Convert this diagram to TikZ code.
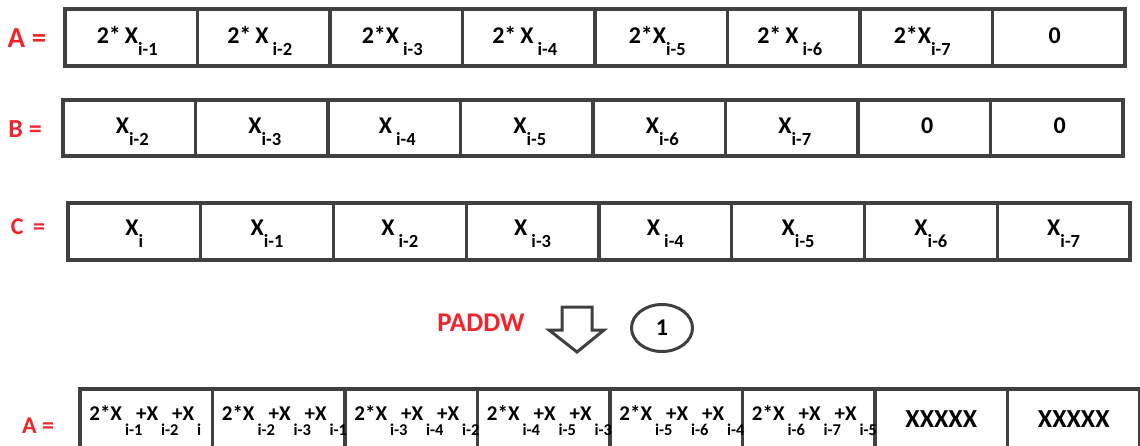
\documentclass[tikz,border=0pt]{standalone}
\usepackage{fontspec}
\setmainfont{Carlito}
\usetikzlibrary{shapes.geometric}
\definecolor{linegray}{RGB}{64,64,64}
\definecolor{lblred}{RGB}{240,36,44}
% lowered index, top rows / bottom row
\newcommand\lsub[1]{\raisebox{-12pt}{\fontsize{18.5}{18.5}\selectfont #1}}
\newcommand\bsub[2][11pt]{\hspace{3pt}\raisebox{-15pt}{\makebox[#1][l]{\fontsize{16.5}{16.5}\selectfont #2}}}
\begin{document}
\begin{tikzpicture}[x=1pt,y=-1pt,
    cell/.style={draw=linegray, line width=3.2pt, minimum width=132.5pt, inner sep=0pt, outer sep=0pt},
    val/.style={anchor=base, inner sep=0pt, font=\bfseries\fontsize{24}{24}\selectfont},
    rval/.style={anchor=base, inner sep=0pt, font=\bfseries\fontsize{21}{21}\selectfont},
    lbl/.style={text=lblred, inner sep=0pt, font=\bfseries}]
  \useasboundingbox (0,0) rectangle (1140,445);
  \clip (0,0) rectangle (1140,445);

  % row A
  \foreach \t [count=\i] in {{2*\,X\lsub{i-1}},{2*\,X\,\lsub{i-2}},{2*X\,\lsub{i-3}},{2*\,X\,\lsub{i-4}},{2*X\lsub{i-5}},{2*\,X\,\lsub{i-6}},{2*X\lsub{i-7}},{0}} {
    \node[cell, minimum height=57pt] (a\i) at ({65+132.5*(\i-0.5)},37.5) {};
    \node[val] (ta\i) at ([xshift=-4pt,yshift=-5.5pt]a\i.center) {\t};
  }
  % row B
  \foreach \t [count=\i] in {{X\lsub{i-2}},{X\lsub{i-3}},{X\,\lsub{i-4}},{X\lsub{i-5}},{X\lsub{i-6}},{X\lsub{i-7}},{0},{0}} {
    \node[cell, minimum height=56pt] (b\i) at ({63+132.5*(\i-0.5)},128) {};
    \node[val] (tb\i) at ([xshift=3pt,yshift=-5pt]b\i.center) {\t};
  }
  % row C
  \foreach \t [count=\i] in {{X\lsub{i}},{X\lsub{i-1}},{X\,\lsub{i-2}},{X\,\lsub{i-3}},{X\,\lsub{i-4}},{X\lsub{i-5}},{X\lsub{i-6}},{X\lsub{i-7}}} {
    \node[cell, minimum width=132.75pt, minimum height=57pt] (c\i) at ({68+132.75*(\i-0.5)},231.5) {};
    \node[val] (tc\i) at ([yshift=-4pt]c\i.center) {\t};
  }
  % result row
  \foreach \i in {1,...,8}
    \node[cell, minimum height=63pt] (r\i) at ({80+132.5*(\i-0.5)},420.5) {};
  \foreach \p/\q/\s [count=\i] in {i-1/i-2/i,i-2/i-3/i-1,i-3/i-4/i-2,i-4/i-5/i-3,i-5/i-6/i-4,i-6/i-7/i-5}
    \node[rval] (tr\i) at ([xshift=-3pt]r\i.center) {2*X\bsub{\p}+X\bsub{\q}+X\bsub[0pt]{\s}\hspace{14pt}};
  \foreach \i in {7,8}
    \node[val, font=\bfseries\fontsize{26}{26}\selectfont] (tr\i) at ([yshift=-7pt]r\i.center) {XXXXX};

  \node[lbl, font=\bfseries\fontsize{29}{29}\selectfont] (la) at (27,38.5) {A =};
  \node[lbl, font=\bfseries\fontsize{26}{26}\selectfont] (lb) at (25,129) {B =};
  \node[lbl, font=\bfseries\fontsize{24}{24}\selectfont] (lc) at (28,227) {C \,=};
  \node[lbl, font=\bfseries\fontsize{24}{24}\selectfont] (lr) at (38,426) {A =};

  \node[lbl, font=\bfseries\fontsize{27}{27}\selectfont] (op) at (481,322.5) {PADDW};
  \draw[linegray, line width=3pt, line join=miter]
    (562,307) -- (592,307) -- (592,330) -- (604,330) -- (577,352) -- (549,330) -- (562,330) -- cycle;
  \node[ellipse, draw=linegray, line width=3pt, minimum width=61pt, minimum height=47pt, inner sep=0pt,
    font=\bfseries\fontsize{24}{24}\selectfont] (n1) at (662,328) {1};
\end{tikzpicture}
\end{document}
